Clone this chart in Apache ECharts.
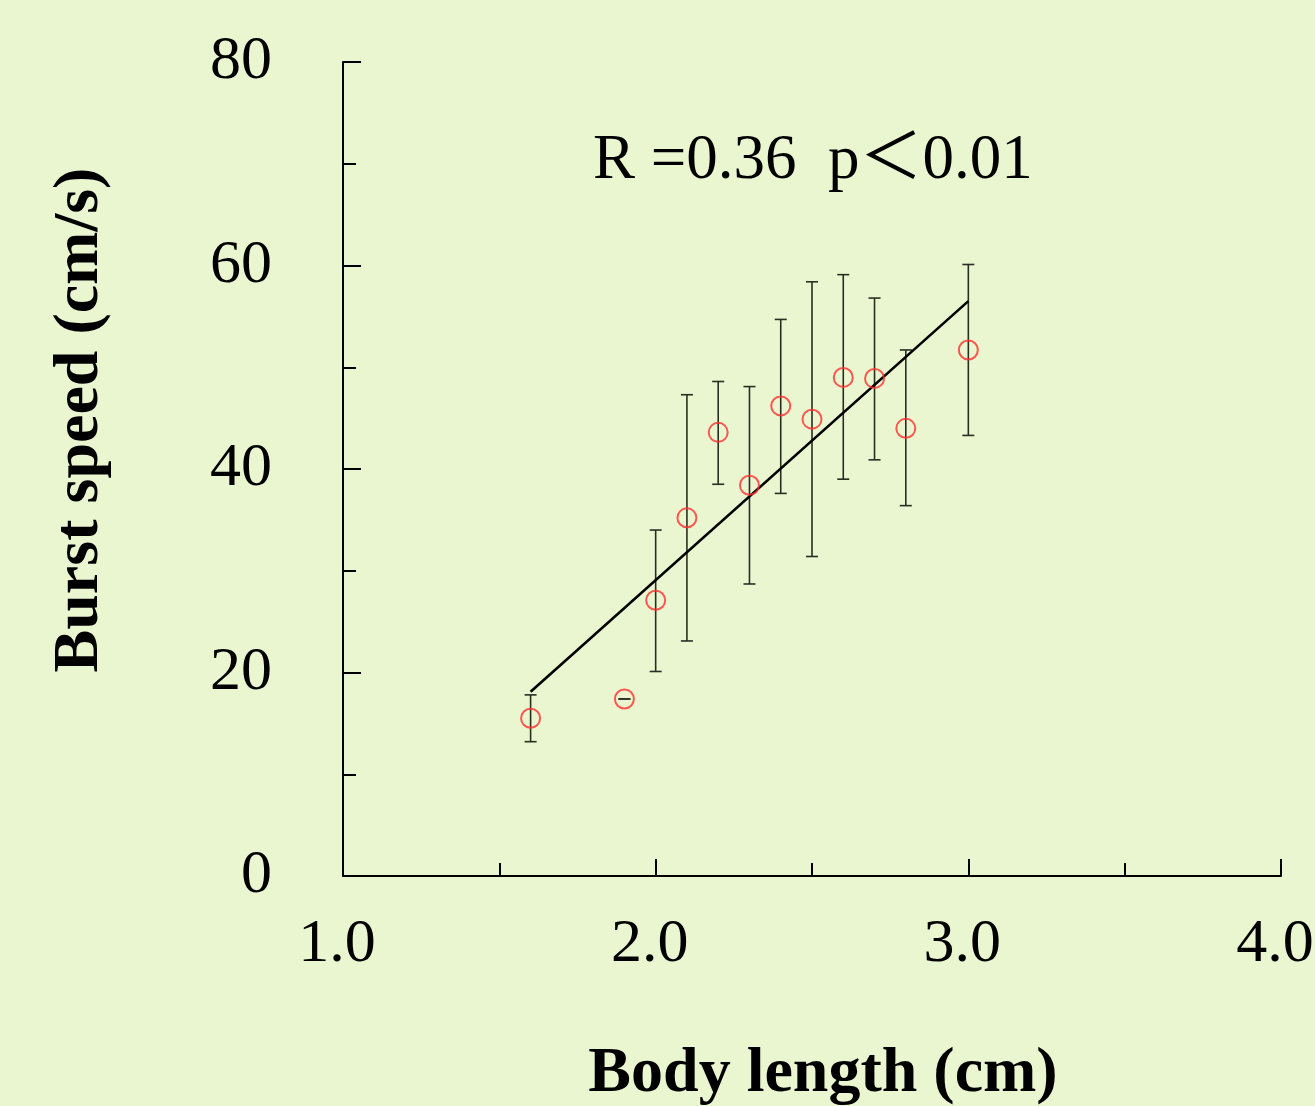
<!DOCTYPE html>
<html><head><meta charset="utf-8">
<script src="https://cdn.jsdelivr.net/npm/echarts@6/dist/echarts.min.js"></script>
<style>html,body{margin:0;padding:0;background:#eaf6d0;}#c{width:1315px;height:1106px;}</style>
</head><body><div id="c"></div>
<script>
const bodyLength = [1.6, 1.9, 2.0, 2.1, 2.2, 2.3, 2.4, 2.5, 2.6, 2.7, 2.8, 3.0];
const burstSpeed = [15.5, 17.4, 27.1, 35.2, 43.6, 38.4, 46.2, 44.9, 49.0, 48.9, 44.0, 51.7];
const errUpper   = [17.8, 17.4, 34.0, 47.3, 48.6, 48.1, 54.7, 58.4, 59.1, 56.8, 51.7, 60.1];
const errLower   = [13.2, 17.4, 20.1, 23.1, 38.5, 28.7, 37.6, 31.4, 39.0, 40.9, 36.4, 43.3];
const fitLine    = [[1.6, 18.1], [3.0, 56.5]];
const xTicks = [1.0, 2.0, 3.0, 4.0];
const yTicks = [0, 20, 40, 60, 80];
const annotation = 'R =0.36  p\uFF1C0.01';
const xName = 'Body length (cm)';
const yName = 'Burst speed (cm/s)';

const FONT = "'Liberation Serif','Times New Roman','Noto Sans CJK SC',serif";
const chart = echarts.init(document.getElementById('c'));
const errData = bodyLength.map((x, i) => [x, errLower[i], errUpper[i]]);
chart.setOption({
  backgroundColor: '#eaf6d0',
  animation: false,
  grid: {left: 343, right: 34, top: 62, bottom: 230, containLabel: false, outerBoundsMode: 'none'},
  xAxis: {
    type: 'value', min: 1, max: 4, interval: 1,
    axisLine: {show: true, onZero: false, lineStyle: {color: '#000', width: 2}},
    axisTick: {show: true, inside: true, length: 17, lineStyle: {color: '#000', width: 2}},
    minorTick: {show: true, splitNumber: 2, length: 13, lineStyle: {color: '#000', width: 2}},
    splitLine: {show: false},
    axisLabel: {margin: 38, color: '#000', fontFamily: FONT, fontSize: 62, padding: [0, 12, 0, 0],
      formatter: v => xTicks.includes(v) ? v.toFixed(1) : ''}
  },
  yAxis: {
    type: 'value', min: 0, max: 80, interval: 20,
    axisLine: {show: true, onZero: false, lineStyle: {color: '#000', width: 2}},
    axisTick: {show: true, inside: true, length: 18, lineStyle: {color: '#000', width: 2}},
    minorTick: {show: true, splitNumber: 2, length: 13, lineStyle: {color: '#000', width: 2}},
    splitLine: {show: false},
    axisLabel: {margin: 71, color: '#000', fontFamily: FONT, fontSize: 62,
      formatter: v => yTicks.includes(v) ? String(v) : ''}
  },
  graphic: [
    {type: 'text', x: 593, y: 161, style: {text: annotation, font: "63px " + FONT, fill: '#000', textAlign: 'left', textVerticalAlign: 'middle'}},
    {type: 'text', x: 823, y: 1074, style: {text: xName, font: "bold 64px " + FONT, fill: '#000', textAlign: 'center', textVerticalAlign: 'middle'}},
    {type: 'text', x: 80, y: 420, rotation: Math.PI / 2, style: {text: yName, font: "bold 64px " + FONT, fill: '#000', textAlign: 'center', textVerticalAlign: 'middle'}}
  ],
  series: [
    {
      type: 'custom', z: 2,
      data: errData,
      renderItem: (params, api) => {
        const x = api.value(0);
        const lo = api.coord([x, api.value(1)]);
        const hi = api.coord([x, api.value(2)]);
        const w = 6;
        const st = {stroke: '#2a2d22', lineWidth: 1.6};
        return {type: 'group', children: [
          {type: 'line', shape: {x1: hi[0], y1: hi[1], x2: lo[0], y2: lo[1]}, style: st},
          {type: 'line', shape: {x1: hi[0] - w, y1: hi[1], x2: hi[0] + w, y2: hi[1]}, style: st},
          {type: 'line', shape: {x1: lo[0] - w, y1: lo[1], x2: lo[0] + w, y2: lo[1]}, style: st}
        ]};
      }
    },
    {
      type: 'line', data: fitLine, z: 3, symbol: 'none',
      lineStyle: {color: '#000', width: 2.6}
    },
    {
      type: 'scatter', z: 4,
      data: bodyLength.map((x, i) => [x, burstSpeed[i]]),
      symbol: 'circle', symbolSize: 19,
      itemStyle: {color: 'rgba(0,0,0,0)', borderColor: '#ff2e2e', borderWidth: 2}
    }
  ]
});
</script></body></html>
